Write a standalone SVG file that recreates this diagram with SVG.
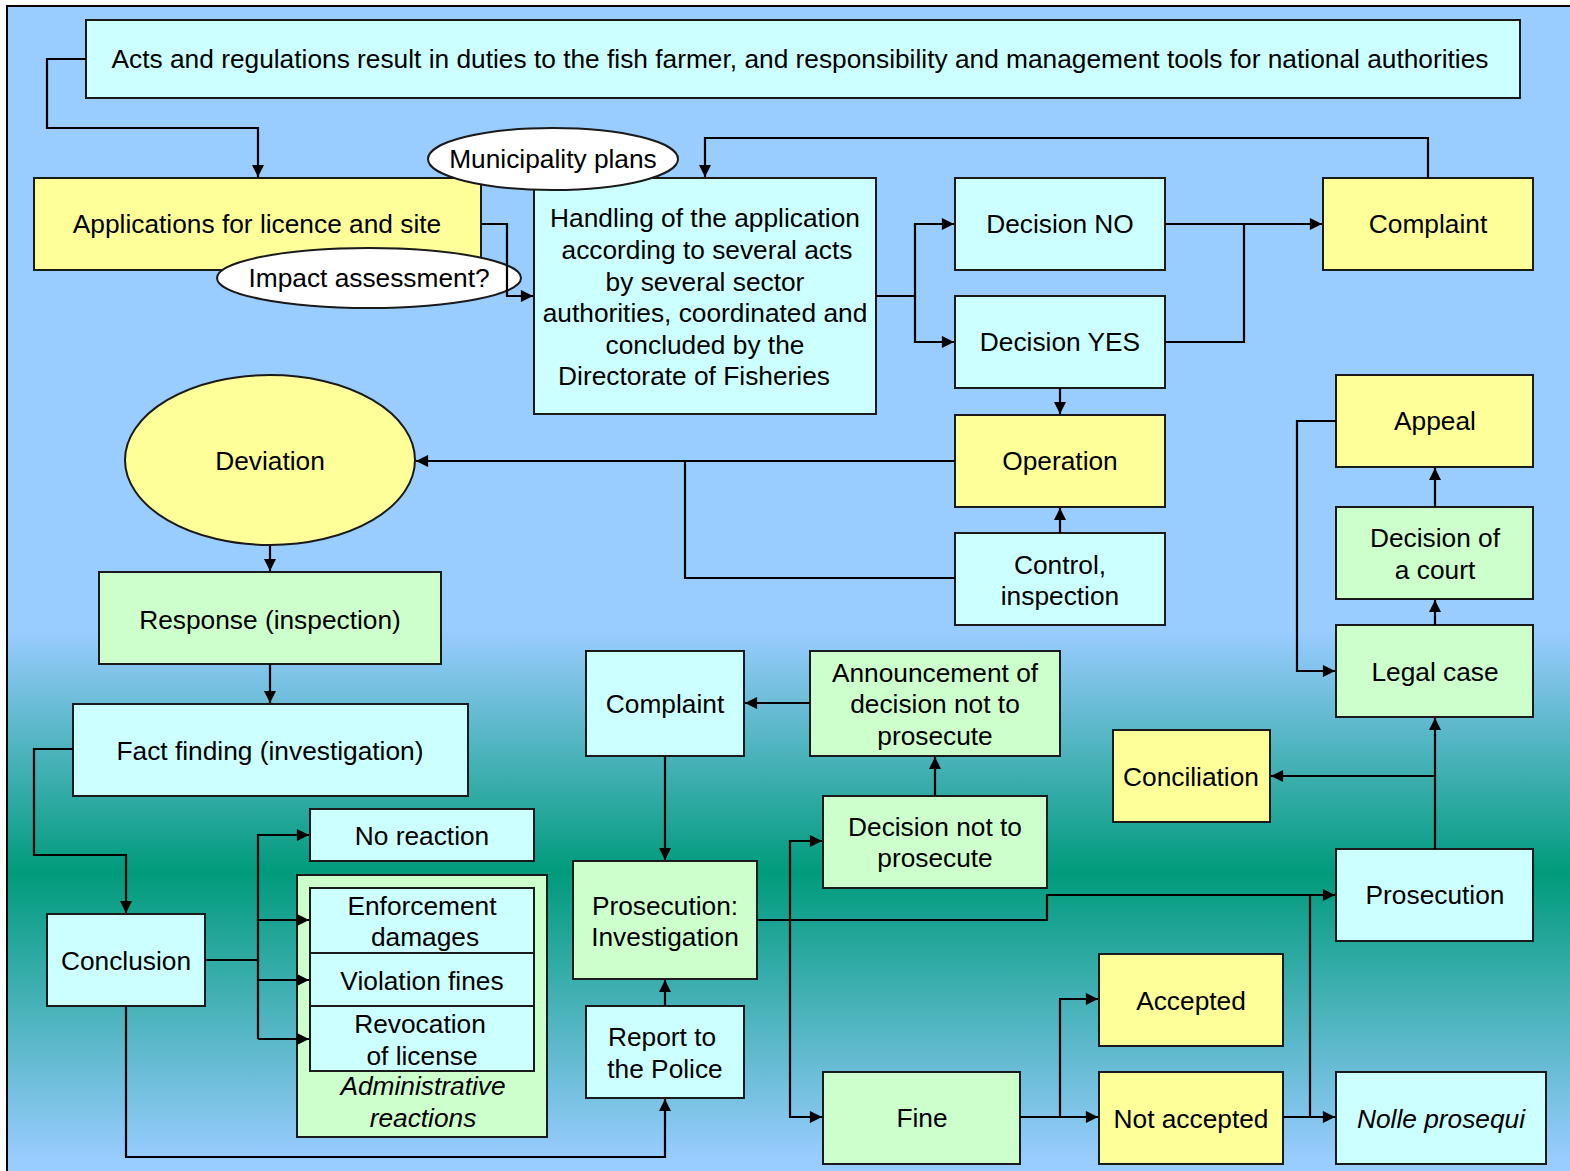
<svg xmlns="http://www.w3.org/2000/svg" width="1570" height="1171" viewBox="0 0 1570 1171">
<style>
.c{fill:#CCFFFF;stroke:#1a1a1a;stroke-width:2}
.y{fill:#FFFF99;stroke:#1a1a1a;stroke-width:2}
.g{fill:#CCFFCC;stroke:#1a1a1a;stroke-width:2}
.w{fill:#FFFFFF;stroke:#1a1a1a;stroke-width:2}
text{font-family:"Liberation Sans",Arial,sans-serif;font-size:26.3px;fill:#000;text-anchor:middle}
.i{font-style:italic}
#connectors path{fill:none;stroke:#000;stroke-width:2.2}
</style>
<defs>
<linearGradient id="bg" gradientUnits="userSpaceOnUse" x1="0" y1="0" x2="0" y2="1171">
<stop offset="0" stop-color="#99CCFF"/>
<stop offset="0.54" stop-color="#99CCFF"/>
<stop offset="0.745" stop-color="#009B7B"/>
<stop offset="0.99" stop-color="#99CCFF"/>
</linearGradient>
<marker id="a" viewBox="0 0 10 10" refX="10" refY="5" markerWidth="6" markerHeight="5.5" markerUnits="strokeWidth" orient="auto">
<path d="M0,0 L10,5 L0,10 z" fill="#000"/>
</marker>
</defs>
<rect x="7" y="6" width="1580" height="1180" fill="url(#bg)" stroke="#000" stroke-width="2"/>

<g id="acts"><rect class="c" x="86" y="20" width="1434" height="78"/><text x="800" y="68">Acts and regulations result in duties to the fish farmer, and responsibility and management tools for national authorities</text></g>
<g id="applications"><rect class="y" x="34" y="178" width="447" height="92"/><text x="257" y="233">Applications for licence and site</text></g>
<g id="handling"><rect class="c" x="534" y="178" width="342" height="236"/>
<text x="705" y="227">Handling of the application</text>
<text x="707" y="259">according to several acts</text>
<text x="705" y="291">by several sector</text>
<text x="705" y="322">authorities, coordinated and</text>
<text x="705" y="354">concluded by the</text>
<text x="694" y="385">Directorate of Fisheries</text></g>
<g id="municipality"><ellipse class="w" cx="553" cy="159" rx="125" ry="31"/><text x="553" y="168">Municipality plans</text></g>
<g id="impact"><ellipse class="w" cx="369" cy="278" rx="152" ry="30"/><text x="369" y="287">Impact assessment?</text></g>
<g id="decision-no"><rect class="c" x="955" y="178" width="210" height="92"/><text x="1060" y="233">Decision NO</text></g>
<g id="decision-yes"><rect class="c" x="955" y="296" width="210" height="92"/><text x="1060" y="351">Decision YES</text></g>
<g id="complaint-top"><rect class="y" x="1323" y="178" width="210" height="92"/><text x="1428" y="233">Complaint</text></g>
<g id="operation"><rect class="y" x="955" y="415" width="210" height="92"/><text x="1060" y="470">Operation</text></g>
<g id="control"><rect class="c" x="955" y="533" width="210" height="92"/><text x="1060" y="574">Control,</text><text x="1060" y="605">inspection</text></g>
<g id="deviation"><ellipse class="y" cx="270" cy="460" rx="145" ry="85"/><text x="270" y="470">Deviation</text></g>
<g id="response"><rect class="g" x="99" y="572" width="342" height="92"/><text x="270" y="629">Response (inspection)</text></g>
<g id="fact-finding"><rect class="c" x="73" y="704" width="395" height="92"/><text x="270" y="760">Fact finding (investigation)</text></g>
<g id="conclusion"><rect class="c" x="47" y="914" width="158" height="92"/><text x="126" y="970">Conclusion</text></g>
<g id="no-reaction"><rect class="c" x="310" y="809" width="224" height="52"/><text x="422" y="845">No reaction</text></g>
<g id="administrative"><rect class="g" x="297" y="875" width="250" height="262"/>
<text class="i" x="423" y="1095">Administrative</text><text class="i" x="423" y="1127">reactions</text></g>
<g id="enforcement"><rect class="c" x="310" y="888" width="224" height="65"/><text x="422" y="915">Enforcement</text><text x="425" y="946">damages</text></g>
<g id="violation"><rect class="c" x="310" y="953" width="224" height="53"/><text x="422" y="990">Violation fines</text></g>
<g id="revocation"><rect class="c" x="310" y="1006" width="224" height="65"/><text x="420" y="1033">Revocation</text><text x="422" y="1065">of license</text></g>
<g id="complaint-mid"><rect class="c" x="586" y="651" width="158" height="105"/><text x="665" y="713">Complaint</text></g>
<g id="announcement"><rect class="g" x="810" y="651" width="250" height="105"/><text x="935" y="682">Announcement of</text><text x="935" y="713">decision not to</text><text x="935" y="745">prosecute</text></g>
<g id="decision-not"><rect class="g" x="823" y="796" width="224" height="92"/><text x="935" y="836">Decision not to</text><text x="935" y="867">prosecute</text></g>
<g id="prosecution-investigation"><rect class="g" x="573" y="861" width="184" height="118"/><text x="665" y="915">Prosecution:</text><text x="665" y="946">Investigation</text></g>
<g id="report"><rect class="c" x="586" y="1006" width="158" height="92"/><text x="662" y="1046">Report to</text><text x="665" y="1078">the Police</text></g>
<g id="fine"><rect class="g" x="823" y="1072" width="197" height="92"/><text x="922" y="1127">Fine</text></g>
<g id="accepted"><rect class="y" x="1099" y="954" width="184" height="92"/><text x="1191" y="1010">Accepted</text></g>
<g id="not-accepted"><rect class="y" x="1099" y="1072" width="184" height="92"/><text x="1191" y="1128">Not accepted</text></g>
<g id="nolle"><rect class="c" x="1336" y="1072" width="210" height="92"/><text class="i" x="1441" y="1128">Nolle prosequi</text></g>
<g id="prosecution"><rect class="c" x="1336" y="849" width="197" height="92"/><text x="1435" y="904">Prosecution</text></g>
<g id="conciliation"><rect class="y" x="1113" y="730" width="157" height="92"/><text x="1191" y="786">Conciliation</text></g>
<g id="legal-case"><rect class="g" x="1336" y="625" width="197" height="92"/><text x="1435" y="681">Legal case</text></g>
<g id="decision-court"><rect class="g" x="1336" y="507" width="197" height="92"/><text x="1435" y="547">Decision of</text><text x="1435" y="579">a court</text></g>
<g id="appeal"><rect class="y" x="1336" y="375" width="197" height="92"/><text x="1435" y="430">Appeal</text></g>

<g id="connectors">
<path d="M86,59 H47 V128 H258 V177" marker-end="url(#a)"/>
<path d="M481,224 H507 V296 H533" marker-end="url(#a)"/>
<path d="M1428,178 V138 H705 V177" marker-end="url(#a)"/>
<path d="M876,296 H915 V224 H954" marker-end="url(#a)"/>
<path d="M915,296 V342 H954" marker-end="url(#a)"/>
<path d="M1165,224 H1322" marker-end="url(#a)"/>
<path d="M1165,342 H1244 V224"/>
<path d="M1060,388 V414" marker-end="url(#a)"/>
<path d="M1060,533 V508" marker-end="url(#a)"/>
<path d="M955,461 H416" marker-end="url(#a)"/>
<path d="M955,578 H685 V461"/>
<path d="M270,546 V571" marker-end="url(#a)"/>
<path d="M270,664 V703" marker-end="url(#a)"/>
<path d="M73,749 H34 V855 H126 V913" marker-end="url(#a)"/>
<path d="M205,960 H258"/>
<path d="M258,1039 V835 H309" marker-end="url(#a)"/>
<path d="M258,920 H309" marker-end="url(#a)"/>
<path d="M258,980 H309" marker-end="url(#a)"/>
<path d="M258,1039 H309" marker-end="url(#a)"/>
<path d="M126,1006 V1157 H665 V1099" marker-end="url(#a)"/>
<path d="M665,1006 V980" marker-end="url(#a)"/>
<path d="M665,756 V860" marker-end="url(#a)"/>
<path d="M810,703 H745" marker-end="url(#a)"/>
<path d="M935,796 V757" marker-end="url(#a)"/>
<path d="M757,920 H1047 V895 H1335" marker-end="url(#a)"/>
<path d="M790,920 V841 H822" marker-end="url(#a)"/>
<path d="M790,920 V1117 H822" marker-end="url(#a)"/>
<path d="M1020,1117 H1098" marker-end="url(#a)"/>
<path d="M1060,1117 V999 H1098" marker-end="url(#a)"/>
<path d="M1283,1117 H1335" marker-end="url(#a)"/>
<path d="M1310,1117 V895"/>
<path d="M1435,849 V718" marker-end="url(#a)"/>
<path d="M1435,776 H1271" marker-end="url(#a)"/>
<path d="M1435,625 V600" marker-end="url(#a)"/>
<path d="M1435,507 V468" marker-end="url(#a)"/>
<path d="M1336,421 H1297 V671 H1335" marker-end="url(#a)"/>
</g>
</svg>
